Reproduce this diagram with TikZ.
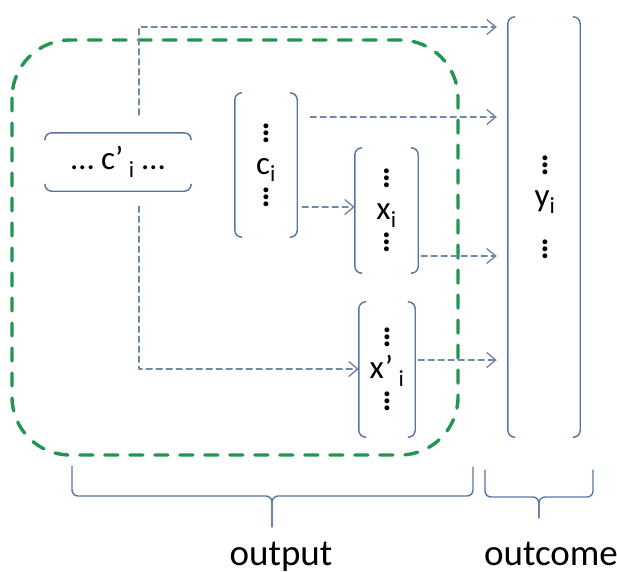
\documentclass[tikz,border=0pt]{standalone}
\usepackage{fontspec}
\setmainfont{Carlito}
\usepackage{tikz}
\usetikzlibrary{arrows.meta}
\definecolor{brkblue}{RGB}{88,116,160}
\definecolor{flowgray}{RGB}{112,136,170}
\definecolor{boxgreen}{RGB}{34,150,80}
\newcommand{\vd}{\vbox{\baselineskip=7pt\lineskiplimit=-20pt\hbox{\bfseries .}\hbox{\bfseries .}\hbox{\bfseries .}}}
\newcommand{\nodefont}{\fontsize{33}{32}\selectfont}

\begin{document}
\begin{tikzpicture}[line cap=round,line join=round,x=1pt,y=-1pt,
    box/.style={inner sep=0pt,align=center,font=\nodefont},
    brk/.style={draw=brkblue,line width=1.4pt,rounded corners=7pt},
    flow/.style={draw=flowgray,line width=1.4pt,dash pattern=on 6pt off 4pt,-{Straight Barb[length=9pt,width=15pt,line width=1.4pt]}},
    grn/.style={draw=boxgreen,line width=3.4pt,dash pattern=on 13pt off 12pt,rounded corners=58pt},
    lbl/.style={font=\fontsize{37}{40}\selectfont,anchor=base,inner sep=0pt}]
      \useasboundingbox (0,0) rectangle (617,571);
      \draw[grn] (12,40) rectangle (458,455);
      % nodes
      \node[box,minimum width=146pt,minimum height=58pt] (cp) at (118,162) {\ldots{} c’\,\textsubscript{i} \ldots};
      \node[box,minimum width=62pt,minimum height=144pt] (c) at (266,165) {\vd\\c\textsubscript{i}\\\vd};
      \node[box,minimum width=63pt,minimum height=125pt] (x) at (386.5,210.5) {\vd\\x\textsubscript{i}\\\vd};
      \node[box,minimum width=56pt,minimum height=135pt] (xp) at (387,369.5) {\vd\\x’\,\textsubscript{i}\\\vd};
      \node[box,minimum width=72pt,minimum height=420pt] (y) at (544,227) {};
      \node[box] (yt) at (545,207) {\vd\\y\textsubscript{i}\\[20pt]\vd};
      % brackets
      \foreach \n in {c,x,xp,y}{
        \draw[brk] ([xshift=7pt]\n.north west) -- (\n.north west) -- (\n.south west) -- ([xshift=7pt]\n.south west);
        \draw[brk] ([xshift=-7pt]\n.north east) -- (\n.north east) -- (\n.south east) -- ([xshift=-7pt]\n.south east);
      }
      \draw[brk] ([yshift=-7pt]cp.north west) -- (cp.north west) -- (cp.north east) -- ([yshift=-7pt]cp.north east);
      \draw[brk] ([yshift=7pt]cp.south west) -- (cp.south west) -- (cp.south east) -- ([yshift=7pt]cp.south east);
      % connectors
      \draw[flow,shorten <=18pt,shorten >=11pt] ([xshift=21pt]cp.north) |- (y.west |- 0,27);
      \draw[flow,shorten <=13pt,shorten >=11pt] (c.east |- 0,117) -- (y.west |- 0,117);
      \draw[flow,shorten <=5pt] (c.east |- 0,207) -- (x.west |- 0,207);
      \draw[flow,shorten <=3pt,shorten >=11pt] (x.east |- 0,256) -- (y.west |- 0,256);
      \draw[flow,shorten <=15pt] ([xshift=21pt]cp.south) |- (xp.west |- 0,369);
      \draw[flow,shorten <=3pt,shorten >=11pt] (xp.east |- 0,360) -- (y.west |- 0,360);
      % braces
      \draw[brk,rounded corners=6pt] (72,466) -- (72,496) -- (272,496) -- (272,527);
      \draw[brk,rounded corners=6pt] (473,467) -- (473,496) -- (272,496) -- (272,527);
      \draw[brk,rounded corners=6pt] (485,470) -- (485,497) -- (539,497) -- (539,518);
      \draw[brk,rounded corners=6pt] (593,470) -- (593,497) -- (539,497) -- (539,518);
      \node[lbl] (outp) at (281,565) {output};
      \node[lbl] (outc) at (551,565) {outcome};
    \end{tikzpicture}
\end{document}
